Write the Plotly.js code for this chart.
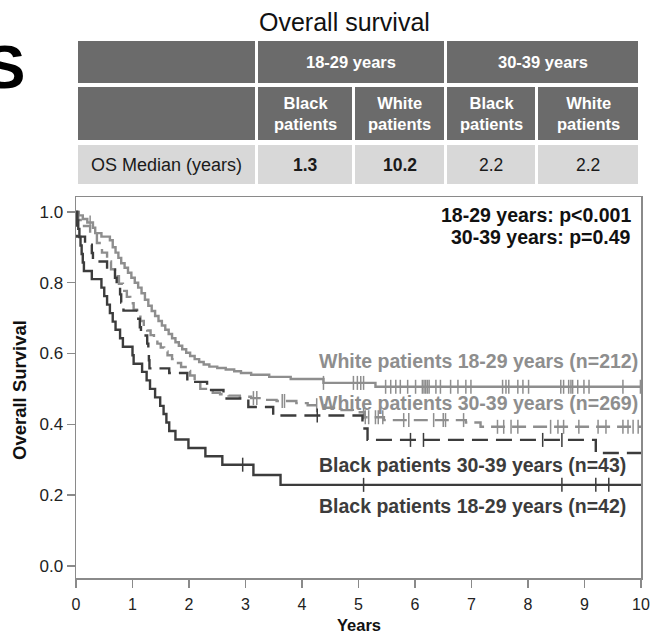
<!DOCTYPE html>
<html>
<head>
<meta charset="utf-8">
<script src="https://cdn.plot.ly/plotly-3.0.1.min.js"></script>
<style>html,body{margin:0;padding:0;background:#fff;}#chart{width:655px;height:635px;}</style>
</head>
<body>
<div id="chart"></div>
<script>
// ---------------- DATA ----------------
// Black patients 18-29 years (n=42)
const B1_t = [0, 0.02, 0.04, 0.06, 0.08, 0.10, 0.12, 0.14, 0.28, 0.45, 0.50, 0.55, 0.60, 0.65, 0.70, 0.78, 0.83, 1.00, 1.02, 1.17, 1.25, 1.31, 1.40, 1.49, 1.55, 1.60, 1.65, 1.76, 1.99, 2.29, 2.59, 3.14, 3.62, 10];
const B1_s = [1.000, 0.976, 0.952, 0.929, 0.905, 0.881, 0.857, 0.833, 0.810, 0.786, 0.762, 0.738, 0.714, 0.690, 0.667, 0.643, 0.619, 0.595, 0.571, 0.548, 0.524, 0.500, 0.476, 0.452, 0.429, 0.405, 0.381, 0.357, 0.333, 0.310, 0.286, 0.257, 0.229, 0.229];
const B1_cens = [2.95, 5.09, 8.60, 9.20, 9.43];

// White patients 18-29 years (n=212)
const W1_t = [0, 0.05, 0.12, 0.20, 0.30, 0.34, 0.45, 0.60, 0.65, 0.70, 0.75, 0.80, 0.86, 0.92, 0.98, 1.04, 1.10, 1.16, 1.22, 1.28, 1.34, 1.40, 1.46, 1.52, 1.58, 1.64, 1.70, 1.76, 1.82, 1.88, 1.95, 2.02, 2.10, 2.18, 2.26, 2.36, 2.50, 2.65, 2.80, 2.92, 3.10, 3.42, 3.80, 4.38, 5.30, 10];
const W1_s = [1.000, 0.990, 0.980, 0.970, 0.955, 0.940, 0.930, 0.920, 0.900, 0.885, 0.870, 0.855, 0.842, 0.828, 0.814, 0.800, 0.786, 0.770, 0.752, 0.735, 0.720, 0.706, 0.692, 0.679, 0.667, 0.655, 0.643, 0.632, 0.622, 0.612, 0.602, 0.593, 0.584, 0.576, 0.569, 0.563, 0.559, 0.555, 0.550, 0.545, 0.540, 0.534, 0.528, 0.517, 0.506, 0.506];
const W1_cens = [0.25, 4.38, 4.91, 4.98, 5.04, 5.09, 5.48, 5.57, 5.66, 5.74, 5.87, 6.01, 6.13, 6.16, 6.19, 6.22, 6.25, 6.37, 6.45, 6.63, 6.76, 6.90, 6.99, 7.55, 7.61, 7.66, 7.82, 7.91, 8.01, 8.58, 8.63, 8.72, 8.76, 8.79, 8.88, 8.99, 9.08, 9.68, 9.99];

// Black patients 30-39 years (n=43)
const B2_t = [0, 0.02, 0.16, 0.28, 0.30, 0.55, 0.69, 0.72, 0.78, 0.80, 0.84, 1.08, 1.13, 1.15, 1.26, 1.28, 1.29, 1.30, 1.65, 1.97, 2.32, 2.61, 3.05, 3.49, 5.07, 5.16, 9.20, 10];
const B2_s = [1.000, 0.930, 0.907, 0.884, 0.860, 0.837, 0.814, 0.791, 0.767, 0.744, 0.721, 0.698, 0.674, 0.651, 0.628, 0.605, 0.581, 0.558, 0.545, 0.520, 0.497, 0.473, 0.449, 0.425, 0.388, 0.356, 0.319, 0.319];
const B2_cens = [4.27, 5.92, 6.15, 8.26, 8.60];

// White patients 30-39 years (n=269)
const W2_t = [0, 0.04, 0.12, 0.25, 0.37, 0.46, 0.55, 0.62, 0.69, 0.76, 0.83, 0.90, 0.96, 1.02, 1.08, 1.14, 1.20, 1.26, 1.32, 1.38, 1.44, 1.50, 1.56, 1.62, 1.70, 1.78, 1.86, 1.94, 2.02, 2.10, 2.20, 2.30, 2.42, 2.55, 2.70, 2.90, 3.10, 3.30, 3.55, 3.90, 4.10, 4.40, 4.70, 4.90, 5.10, 5.45, 6.90, 7.16, 10];
const W2_s = [1.000, 0.977, 0.960, 0.940, 0.912, 0.885, 0.860, 0.838, 0.818, 0.797, 0.777, 0.760, 0.742, 0.724, 0.708, 0.692, 0.677, 0.665, 0.652, 0.640, 0.628, 0.617, 0.606, 0.595, 0.584, 0.573, 0.562, 0.551, 0.538, 0.522, 0.500, 0.494, 0.489, 0.485, 0.481, 0.478, 0.474, 0.469, 0.466, 0.460, 0.454, 0.447, 0.440, 0.434, 0.420, 0.412, 0.405, 0.393, 0.393];
const W2_cens = [3.14, 3.20, 3.65, 3.69, 4.26, 5.09, 5.12, 5.18, 5.30, 5.35, 5.43, 5.80, 5.89, 6.33, 6.50, 6.54, 6.86, 7.46, 7.57, 7.70, 7.82, 8.40, 8.53, 8.63, 8.90, 9.24, 9.38, 9.68, 9.77, 9.86, 9.95];

const curveLabels = ["White patients 18-29 years (n=212)", "White patients 30-39 years (n=269)", "Black patients 30-39 years (n=43)", "Black patients 18-29 years (n=42)"];
const pValueLines = ["18-29 years: p<0.001", "30-39 years: p=0.49"];
const xTicks = [0, 1, 2, 3, 4, 5, 6, 7, 8, 9, 10];
const yTicks = [0, 0.2, 0.4, 0.6, 0.8, 1.0];
const yTickText = ["0.0", "0.2", "0.4", "0.6", "0.8", "1.0"];

// Table content
const tableTitle = "Overall survival";
const ageGroups = ["18-29 years", "30-39 years"];
const subHeaders = ["Black<br>patients", "White<br>patients", "Black<br>patients", "White<br>patients"];
const rowLabel = "OS Median (years)";
const medians = ["1.3", "10.2", "2.2", "2.2"];
const medianBold = [true, true, false, false];

// ---------------- HELPERS ----------------
const W = 655, H = 635, ML = 76, MR = 14, MT = 197, MB = 57;
const PW = W - ML - MR, PH = H - MT - MB;
const px = v => (v - ML) / PW;           // pixel x -> paper
const py = v => (H - MB - v) / PH;       // pixel y -> paper
function stepY(ts, ss, t) { let v = ss[0]; for (let i = 0; i < ts.length; i++) { if (ts[i] <= t) v = ss[i]; else break; } return v; }

const LIGHT = '#8e8e8e', DARK = '#3c3c3c';
const FONT = 'Liberation Sans, Arial, Helvetica, sans-serif';

function curve(ts, ss, color, dash) {
  return { x: ts, y: ss, type: 'scatter', mode: 'lines', line: { shape: 'hv', color: color, width: 2.4, dash: dash }, hoverinfo: 'skip', showlegend: false };
}
function cens(ct, ts, ss, color) {
  return { x: ct, y: ct.map(t => stepY(ts, ss, t)), type: 'scatter', mode: 'markers',
    marker: { symbol: 'line-ns', size: 10, color: color, line: { color: color, width: 1.5 } }, hoverinfo: 'skip', showlegend: false };
}

const traces = [
  curve(W1_t, W1_s, LIGHT, 'solid'), cens(W1_cens, W1_t, W1_s, LIGHT),
  curve(W2_t, W2_s, LIGHT, '14px,7px'), cens(W2_cens, W2_t, W2_s, LIGHT),
  curve(B2_t, B2_s, DARK, '16px,8px'), cens(B2_cens, B2_t, B2_s, DARK),
  curve(B1_t, B1_s, DARK, 'solid'), cens(B1_cens, B1_t, B1_s, DARK)
];

// ---------------- TABLE (shapes + annotations) ----------------
const shapes = [], ann = [];
const DARKCELL = '#6b6b6b', LIGHTCELL = '#d8d8d8';
function cell(x0, x1, y0, y1, fill) {
  shapes.push({ type: 'rect', xref: 'paper', yref: 'paper', x0: px(x0), x1: px(x1), y0: py(y1), y1: py(y0), fillcolor: fill, line: { width: 0 }, layer: 'above' });
}
function txt(text, xc, yc, size, color, bold, anchor) {
  ann.push({ xref: 'paper', yref: 'paper', x: px(xc), y: py(yc), text: text, showarrow: false, xanchor: anchor || 'center', yanchor: 'middle',
    font: { family: FONT, size: size, color: color, weight: bold ? 'bold' : 'normal' } });
}
const colX = [[78, 255], [258, 352], [355, 444], [447, 535], [538, 638]];
const row1 = [41, 83], row2 = [87, 140], row3 = [145, 184];
// row 1
cell(78, 255, row1[0], row1[1], DARKCELL);
cell(258, 444, row1[0], row1[1], DARKCELL);
cell(447, 638, row1[0], row1[1], DARKCELL);
txt(ageGroups[0], (258 + 444) / 2, (row1[0] + row1[1]) / 2, 16.5, '#ffffff', true);
txt(ageGroups[1], (447 + 638) / 2, (row1[0] + row1[1]) / 2, 16.5, '#ffffff', true);
// row 2
colX.forEach((c, i) => {
  cell(c[0], c[1], row2[0], row2[1], DARKCELL);
  if (i > 0) txt(subHeaders[i - 1], (c[0] + c[1]) / 2, (row2[0] + row2[1]) / 2, 16.5, '#ffffff', true);
});
// row 3
colX.forEach((c, i) => {
  cell(c[0], c[1], row3[0], row3[1], LIGHTCELL);
  if (i === 0) txt(rowLabel, (c[0] + c[1]) / 2, (row3[0] + row3[1]) / 2, 18, '#1a1a1a', false);
  else txt(medians[i - 1], (c[0] + c[1]) / 2, (row3[0] + row3[1]) / 2, 17.5, '#1a1a1a', medianBold[i - 1]);
});
// table title
txt(tableTitle, 344, 22, 25, '#111111', false);
// panel letter (cropped at the left edge, as in the reference)
txt("S", 27, 66, 62, '#000000', true, 'right');

// ---------------- PLOT ANNOTATIONS ----------------
const labelY = [0.579, 0.46, 0.285, 0.17];
const labelCol = [LIGHT, LIGHT, DARK, DARK];
curveLabels.forEach((t, i) => {
  ann.push({ xref: 'x', yref: 'y', x: 4.27, y: labelY[i], text: t, showarrow: false, xanchor: 'left', yanchor: 'middle',
    font: { family: FONT, size: 19.5, color: labelCol[i], weight: 'bold' } });
});
const pY = [0.992, 0.929];
pValueLines.forEach((t, i) => {
  ann.push({ xref: 'x', yref: 'y', x: 9.86, y: pY[i], text: t, showarrow: false, xanchor: 'right', yanchor: 'middle',
    font: { family: FONT, size: 19.5, color: '#111111', weight: 'bold' } });
});
// axis titles
ann.push({ xref: 'paper', yref: 'paper', x: 0.5, y: py(625), text: 'Years', showarrow: false, xanchor: 'center', yanchor: 'middle',
  font: { family: FONT, size: 16.5, color: '#111', weight: 'bold' } });
ann.push({ xref: 'paper', yref: 'paper', x: px(19), y: py(390), text: 'Overall Survival', textangle: -90, showarrow: false, xanchor: 'center', yanchor: 'middle',
  font: { family: FONT, size: 18.5, color: '#111', weight: 'bold' } });

const layout = {
  width: W, height: H,
  margin: { l: ML, r: MR, t: MT, b: MB, pad: 0 },
  paper_bgcolor: '#ffffff', plot_bgcolor: '#ffffff',
  showlegend: false,
  font: { family: FONT, color: '#222' },
  xaxis: { range: [0, 10], tickvals: xTicks, ticktext: xTicks.map(String), ticks: 'outside', ticklen: 8, tickwidth: 1.3, tickcolor: '#8a8a8a',
    showline: true, mirror: true, linecolor: '#8a8a8a', linewidth: 1.5, showgrid: false, zeroline: false,
    tickfont: { family: FONT, size: 16, color: '#222' }, ticklabelstandoff: 3 },
  yaxis: { range: [-0.034, 1.042], tickvals: yTicks, ticktext: yTickText, ticks: 'outside', ticklen: 8, tickwidth: 1.3, tickcolor: '#8a8a8a',
    showline: true, mirror: true, linecolor: '#8a8a8a', linewidth: 1.5, showgrid: false, zeroline: false,
    tickfont: { family: FONT, size: 17, color: '#222' } },
  shapes: shapes,
  annotations: ann
};

Plotly.newPlot('chart', traces, layout, { staticPlot: true, displayModeBar: false });
</script>
</body>
</html>
